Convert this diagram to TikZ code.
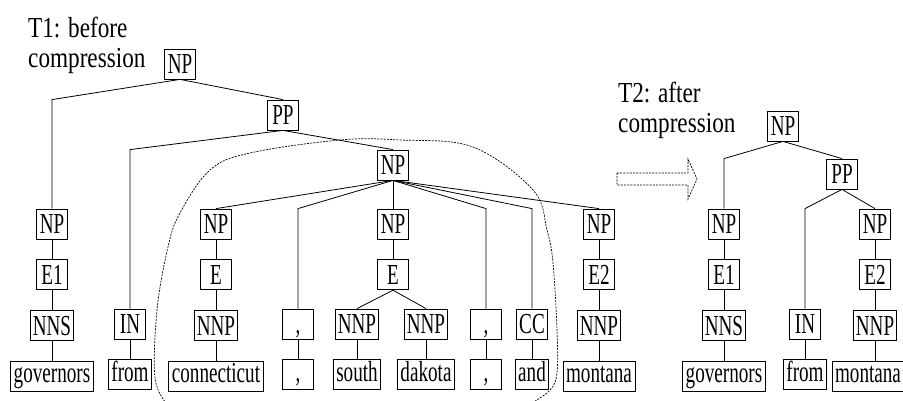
\documentclass[tikz,border=0pt]{standalone}
\usepackage{fontspec}
\newfontfamily\treefont[FakeStretch=0.66]{Liberation Serif}
\newfontfamily\notefont[FakeStretch=0.8]{Liberation Serif}
\usetikzlibrary{positioning}

\begin{document}
\begin{tikzpicture}[
    x=1pt, y=-1pt,
    node distance=20pt,
    tagbox/.style={
      draw, line width=0.8pt, font=\fontsize{29pt}{29pt}\treefont,
      minimum width=31pt, inner xsep=2pt, inner ysep=5.5pt,
      text height=19pt, text depth=0pt
    },
    wordbox/.style={tagbox, inner xsep=3pt, inner ysep=8.5pt, text height=13pt},
    branch/.style={line width=0.8pt},
    note/.style={font=\fontsize{29pt}{30pt}\notefont, align=left, inner sep=0pt, anchor=west},
    region/.style={line width=0.7pt, dash pattern=on 2pt off 1.2pt}
  ]
  \useasboundingbox (0,0) rectangle (903,401);

  % T1: before compression
  \node[note] (t1) at (28,45) {T1: before\\compression};
  \node[tagbox] (root1) at (180,64) {NP};
  \node[tagbox] (pp1) at (283,115) {PP};
  \node[tagbox] (np1) at (393,165) {NP};

  \node[tagbox] (gov1np) at (52,224) {NP};
  \node[tagbox, below=of gov1np] (gov1e) {E1};
  \node[tagbox, below=of gov1e] (gov1pos) {NNS};
  \node[wordbox, below=of gov1pos] (gov1w) {governors};

  \node[tagbox] (from1pos) at (130,324) {IN};
  \node[wordbox, below=of from1pos] (from1w) {from};

  \node[tagbox] (con1np) at (216,224) {NP};
  \node[tagbox, below=of con1np] (con1e) {E};
  \node[tagbox, below=of con1e] (con1pos) {NNP};
  \node[wordbox, below=of con1pos] (con1w) {connecticut};

  \node[tagbox] (cma1pos) at (298,324) {,};
  \node[wordbox, below=of cma1pos] (cma1w) {,};

  \node[tagbox] (sd1np) at (393,224) {NP};
  \node[tagbox, below=of sd1np] (sd1e) {E};
  \node[tagbox] (south1pos) at (357,324) {NNP};
  \node[wordbox, below=of south1pos] (south1w) {south};
  \node[tagbox] (dak1pos) at (426,324) {NNP};
  \node[wordbox, below=of dak1pos] (dak1w) {dakota};

  \node[tagbox] (cmb1pos) at (486,324) {,};
  \node[wordbox, below=of cmb1pos] (cmb1w) {,};
  \node[tagbox] (and1pos) at (532,324) {CC};
  \node[wordbox, below=of and1pos] (and1w) {and};

  \node[tagbox] (mon1np) at (599,224) {NP};
  \node[tagbox, below=of mon1np] (mon1e) {E2};
  \node[tagbox, below=of mon1e] (mon1pos) {NNP};
  \node[wordbox, below=of mon1pos] (mon1w) {montana};

  \draw[branch] (root1.south) -- (pp1.north -| gov1np.north) -- (gov1np.north);
  \draw[branch] (root1.south) -- (pp1.north);
  \draw[branch] (pp1.south) -- (np1.north -| from1pos.north) -- (from1pos.north);
  \draw[branch] (pp1.south) -- (np1.north);
  \foreach \k in {con1np, sd1np, mon1np}
    \draw[branch] (np1.south) -- (\k.north);
  \foreach \k in {cma1pos, cmb1pos, and1pos}
    \draw[branch] (np1.south) -- (con1np.north -| \k.north) -- (\k.north);
  \draw[branch] (gov1np) -- (gov1e) -- (gov1pos) -- (gov1w);
  \draw[branch] (from1pos) -- (from1w);
  \draw[branch] (con1np) -- (con1e) -- (con1pos) -- (con1w);
  \draw[branch] (cma1pos) -- (cma1w);
  \draw[branch] (sd1np) -- (sd1e);
  \draw[branch] (sd1e.south) -- (south1pos.north);
  \draw[branch] (sd1e.south) -- (dak1pos.north);
  \draw[branch] (south1pos) -- (south1w);
  \draw[branch] (dak1pos) -- (dak1w);
  \draw[branch] (cmb1pos) -- (cmb1w);
  \draw[branch] (and1pos) -- (and1w);
  \draw[branch] (mon1np) -- (mon1e) -- (mon1pos) -- (mon1w);

  % compressed region
  \draw[region] plot[smooth, tension=0.6] coordinates {(167,404) (155,378) (157,310)
    (168,247) (180,213) (210,170) (250,153) (340,140) (400,140) (473,147)
    (533,190) (547,230) (553,263) (557,330) (557,373) (550,390) (532,403)};

  % compression arrow
  \draw[region] (617,173) -- (688,173) -- (688,159) -- (697,179) -- (688,199)
    -- (688,185) -- (617,185) -- cycle;

  % T2: after compression
  \node[note] (t2) at (618,110) {T2: after\\compression};
  \node[tagbox] (root2) at (783,126) {NP};
  \node[tagbox] (pp2) at (842,174) {PP};

  \node[tagbox] (gov2np) at (724,224) {NP};
  \node[tagbox, below=of gov2np] (gov2e) {E1};
  \node[tagbox, below=of gov2e] (gov2pos) {NNS};
  \node[wordbox, below=of gov2pos] (gov2w) {governors};

  \node[tagbox] (from2pos) at (805,324) {IN};
  \node[wordbox, below=of from2pos] (from2w) {from};

  \node[tagbox] (mon2np) at (875,224) {NP};
  \node[tagbox, below=of mon2np] (mon2e) {E2};
  \node[tagbox, below=of mon2e] (mon2pos) {NNP};
  \node[wordbox, below=of mon2pos, xshift=-7pt] (mon2w) {montana};

  \draw[branch] (root2.south) -- (pp2.north -| gov2np.north) -- (gov2np.north);
  \draw[branch] (root2.south) -- (pp2.north);
  \draw[branch] (pp2.south) -- (mon2np.north -| from2pos.north) -- (from2pos.north);
  \draw[branch] (pp2.south) -- (mon2np.north);
  \draw[branch] (gov2np) -- (gov2e) -- (gov2pos) -- (gov2w);
  \draw[branch] (from2pos) -- (from2w);
  \draw[branch] (mon2np) -- (mon2e) -- (mon2pos);
  \draw[branch] (mon2pos.south) -- (mon2pos.south |- mon2w.north);
\end{tikzpicture}
\end{document}
